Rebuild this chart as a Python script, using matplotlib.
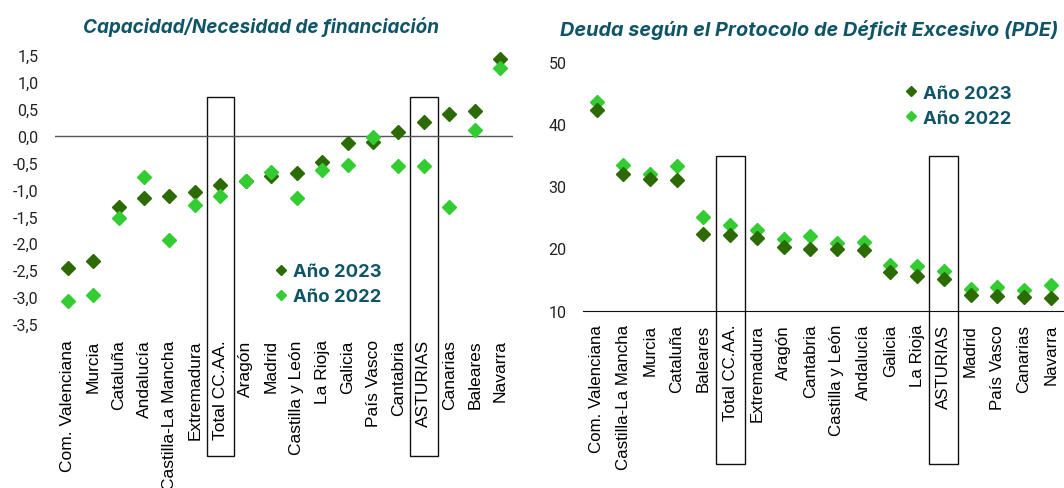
import matplotlib
matplotlib.use("Agg")
import matplotlib.pyplot as plt
from matplotlib.patches import Rectangle
from matplotlib.lines import Line2D
from matplotlib.ticker import FuncFormatter
import matplotlib.transforms as mtransforms

# ---------------- data ----------------
cap_regions = ["Com. Valenciana", "Murcia", "Cataluña", "Andalucía", "Castilla-La Mancha",
               "Extremadura", "Total CC.AA.", "Aragón", "Madrid", "Castilla y León",
               "La Rioja", "Galicia", "País Vasco", "Cantabria", "ASTURIAS",
               "Canarias", "Baleares", "Navarra"]
cap_2023 = [-2.46, -2.33, -1.33, -1.15, -1.13, -1.05, -0.91, -0.84, -0.75, -0.70,
            -0.48, -0.14, -0.11, 0.06, 0.26, 0.40, 0.45, 1.43]
cap_2022 = [-3.07, -2.97, -1.53, -0.76, -1.93, -1.28, -1.13, -0.84, -0.67, -1.15,
            -0.63, -0.55, -0.02, -0.57, -0.56, -1.32, 0.11, 1.25]

deu_regions = ["Com. Valenciana", "Castilla-La Mancha", "Murcia", "Cataluña", "Baleares",
               "Total CC.AA.", "Extremadura", "Aragón", "Cantabria", "Castilla y León",
               "Andalucía", "Galicia", "La Rioja", "ASTURIAS", "Madrid", "País Vasco",
               "Canarias", "Navarra"]
deu_2023 = [42.2, 31.9, 31.1, 31.0, 22.3, 22.2, 21.7, 20.3, 19.9, 19.85, 19.7, 16.2,
            15.6, 15.1, 12.5, 12.4, 12.25, 12.0]
deu_2022 = [43.6, 33.4, 31.9, 33.2, 25.1, 23.8, 23.0, 21.5, 22.0, 20.8, 21.1, 17.3,
            17.1, 16.4, 13.5, 13.75, 13.3, 14.1]

highlight = ["Total CC.AA.", "ASTURIAS"]
left_title = "Capacidad/Necesidad de financiación"
right_title = "Deuda según el Protocolo de Déficit Excesivo (PDE)"
lab23, lab22 = "Año 2023", "Año 2022"

# ---------------- style ----------------
C23 = "#2b6a04"
C22 = "#33cc33"
TEAL = "#0f5567"
MS = 6.8

fig = plt.figure(figsize=(10.64, 4.89), dpi=100)
axL = fig.add_axes([0.0517, 0.3354, 0.4304, 0.5501])
axR = fig.add_axes([0.5482, 0.3626, 0.4518, 0.5092])

def comma(v, pos):
    return f"{v:.1f}".replace(".", ",")

def style_common(ax, cats, xpad, xsize):
    for s in ax.spines.values():
        s.set_visible(False)
    ax.set_xlim(-0.5, len(cats) - 0.5)
    ax.tick_params(axis="both", length=0)
    ax.tick_params(axis="y", pad=12, labelsize=11.5, labelcolor="#222222")
    ax.tick_params(axis="x", pad=xpad, labelsize=xsize, labelcolor="black")
    ax.set_xticks(range(len(cats)))
    ax.set_xticklabels(cats, rotation=90)
    for t in ax.get_xticklabels():
        t.set_family("Liberation Sans")
        t.set_fontsize(xsize)
    for t in ax.get_yticklabels():
        t.set_family("Roboto")

def boxes(ax, cats, ytop, ybot):
    trans = mtransforms.blended_transform_factory(ax.transData, ax.transAxes)
    for name in highlight:
        i = cats.index(name)
        r = Rectangle((i - 0.54, ybot), 1.08, ytop - ybot, transform=trans,
                      fill=False, edgecolor="#111111", lw=1.0, clip_on=False, zorder=1)
        ax.add_patch(r)

# ---- left ----
xL = range(len(cap_regions))
axL.plot(xL, cap_2023, ls="none", marker="D", ms=MS, color=C23, clip_on=False, zorder=3)
axL.plot(xL, cap_2022, ls="none", marker="D", ms=MS, color=C22, clip_on=False, zorder=4)
axL.axhline(0, color="#555555", lw=1.0, zorder=2)
axL.set_ylim(-3.5, 1.5)
axL.set_yticks([1.5, 1.0, 0.5, 0.0, -0.5, -1.0, -1.5, -2.0, -2.5, -3.0, -3.5])
axL.yaxis.set_major_formatter(FuncFormatter(comma))
style_common(axL, cap_regions, 11, 12.5)
boxes(axL, cap_regions, 0.842, -0.49)
fig.text(0.245, 0.945, left_title, ha="center", va="center", fontsize=13.6,
         family="Inter", weight="bold", style="italic", color=TEAL)

# ---- right ----
xR = range(len(deu_regions))
axR.plot(xR, deu_2022, ls="none", marker="D", ms=MS, color=C22, clip_on=False, zorder=3)
axR.plot(xR, deu_2023, ls="none", marker="D", ms=MS, color=C23, clip_on=False, zorder=4)
axR.set_ylim(10, 50)
axR.set_yticks([10, 20, 30, 40, 50])
style_common(axR, deu_regions, 9.5, 12.2)
axR.spines["bottom"].set_visible(True)
axR.spines["bottom"].set_color("#111111")
boxes(axR, deu_regions, 0.6225, -0.615)
fig.text(0.760, 0.938, right_title, ha="center", va="center", fontsize=14.3,
         family="Inter", weight="bold", style="italic", color=TEAL)

# ---- legends ----
def legend(ax, anchor):
    h = [Line2D([], [], ls="none", marker="D", ms=5.5, color=C23),
         Line2D([], [], ls="none", marker="D", ms=5.5, color=C22)]
    ax.legend(h, [lab23, lab22], loc="center left", bbox_to_anchor=anchor,
              frameon=False, handlelength=0.6, handletextpad=0.35, labelspacing=0.42,
              borderpad=0, borderaxespad=0,
              prop={"family": "Inter", "weight": "bold", "size": 13.3}, labelcolor=TEAL)

legend(axL, (0.482, 0.148))
legend(axR, (0.67, 0.823))

fig.savefig("out.png", dpi=100)
